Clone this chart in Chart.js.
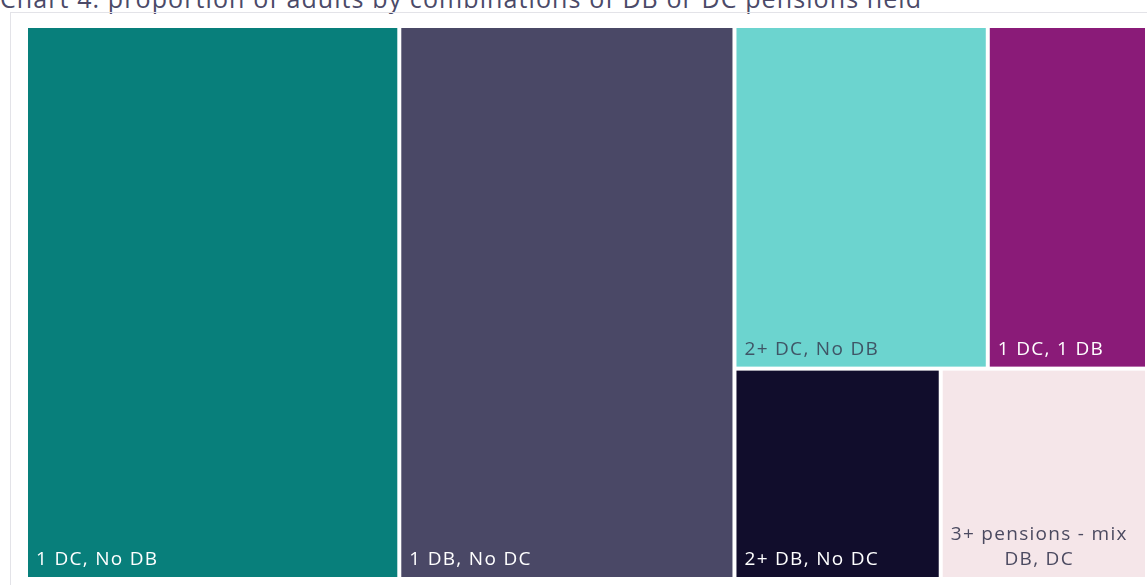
<!DOCTYPE html>
<html>
<head>
<meta charset="utf-8">
<title>Pension combinations treemap</title>
<script src="https://cdn.jsdelivr.net/npm/chart.js@4.4.1/dist/chart.umd.min.js"></script>
<style>
  html, body { margin: 0; padding: 0; background: #fff; overflow: hidden; }
  body { width: 1147px; height: 585px; position: relative; font-family: "Open Sans", sans-serif; }
  .chart-title { position: absolute; left: 0; top: -18px; margin: 0; font-size: 25px; line-height: 32px; letter-spacing: 1.1px; font-weight: 400; color: #4b4a68; white-space: nowrap; }
  .chart-frame { position: absolute; left: 10px; top: 12px; width: 1160px; height: 600px; border: 1px solid #e3e3e8; box-sizing: border-box; }
  .chart-box { position: absolute; left: 0; top: 0; width: 1147px; height: 585px; }
</style>
</head>
<body>
<h2 class="chart-title">Chart 4: proportion of adults by combinations of DB or DC pensions held</h2>
<div class="chart-frame"></div>
<div class="chart-box"><canvas id="treemap"></canvas></div>
<script>
// share of adults (%) per combination of pensions held
const categories = ["1 DC, No DB", "1 DB, No DC", "2+ DC, No DB", "1 DC, 1 DB", "2+ DB, No DC", "3+ pensions - mix DB, DC"];
const shares = [33.3, 29.9, 14.0, 8.8, 7.0, 7.0];
const cellColors = ["#087f7b", "#4a4866", "#6cd4cf", "#8a1b78", "#110d2c", "#f5e6e9"];
const labelColors = ["#ffffff", "#ffffff", "#3f5566", "#ffffff", "#ffffff", "#4b4a60"];

const ASPECT = 1.2;   // target cell ratio for the squarify pass
const GAP = 2;        // white gutter on each side of a cell
const PAD_X = 8;
const PAD_BOTTOM = 12;
const LINE_H = 25;
const FONT = "19px 'Open Sans', sans-serif";
const TRACKING = "1.3px";

// squarified layout (d3-style, ratio-weighted); values must be sorted descending
function squarify(values, x0, y0, x1, y1, ratio) {
  const out = [];
  const n = values.length;
  let value = values.reduce((a, b) => a + b, 0);
  let i0 = 0, i1 = 0;
  while (i0 < n) {
    const dx = x1 - x0, dy = y1 - y0;
    let sum = values[i1++], minV = sum, maxV = sum;
    const alpha = Math.max(dy / dx, dx / dy) / (value * ratio);
    let beta = sum * sum * alpha;
    let minRatio = Math.max(maxV / beta, beta / minV);
    for (; i1 < n; ++i1) {
      const v = values[i1];
      sum += v;
      if (v < minV) minV = v;
      if (v > maxV) maxV = v;
      beta = sum * sum * alpha;
      const r = Math.max(maxV / beta, beta / minV);
      if (r > minRatio) { sum -= v; break; }
      minRatio = r;
    }
    const row = values.slice(i0, i1);
    if (dx < dy) {
      const h = dy * sum / value;
      let x = x0;
      row.forEach(v => { const w = dx * v / sum; out.push({ x0: x, y0: y0, x1: x + w, y1: y0 + h }); x += w; });
      y0 += h;
    } else {
      const w = dx * sum / value;
      let y = y0;
      row.forEach(v => { const h = dy * v / sum; out.push({ x0: x0, y0: y, x1: x0 + w, y1: y + h }); y += h; });
      x0 += w;
    }
    value -= sum;
    i0 = i1;
  }
  return out;
}

function wrapLabel(ctx, text, maxW) {
  const words = text.split(" ");
  const lines = [];
  let line = "";
  words.forEach(word => {
    const test = line ? line + " " + word : word;
    if (line && ctx.measureText(test).width > maxW) { lines.push(line); line = word; }
    else line = test;
  });
  if (line) lines.push(line);
  return lines;
}

const treemapCells = {
  id: "treemapCells",
  afterDatasetsDraw(chart) {
    const { ctx, chartArea, scales: { x, y } } = chart;
    const w = chartArea.right - chartArea.left;
    const h = chartArea.bottom - chartArea.top;
    const order = shares.map((v, i) => i).sort((a, b) => shares[b] - shares[a]);
    const rects = squarify(order.map(i => shares[i]), 0, 0, w, h, ASPECT);

    ctx.save();
    ctx.font = FONT;
    ctx.letterSpacing = TRACKING;
    ctx.textBaseline = "alphabetic";
    rects.forEach((r, k) => {
      const i = order[k];
      const left = x.getPixelForValue(r.x0 / w * 100) + GAP;
      const right = x.getPixelForValue(r.x1 / w * 100) - GAP;
      const top = y.getPixelForValue(r.y0 / h * 100) + GAP;
      const bottom = y.getPixelForValue(r.y1 / h * 100) - GAP;
      ctx.fillStyle = cellColors[i];
      ctx.fillRect(left, top, right - left, bottom - top);

      // label sits in the bottom-left corner; wrapped lines are centred on each other
      const lines = wrapLabel(ctx, categories[i], right - left - PAD_X);
      const blockW = Math.max(...lines.map(l => ctx.measureText(l).width));
      const cx = left + PAD_X + blockW / 2;
      ctx.fillStyle = labelColors[i];
      ctx.textAlign = "center";
      lines.forEach((l, j) => {
        ctx.fillText(l, cx, bottom - PAD_BOTTOM - (lines.length - 1 - j) * LINE_H);
      });
    });
    ctx.restore();
  }
};

new Chart(document.getElementById("treemap"), {
  type: "scatter",
  data: { datasets: [{ data: [], pointRadius: 0 }] },
  options: {
    responsive: true,
    maintainAspectRatio: false,
    animation: false,
    layout: { padding: { left: 26, top: 26, right: 0, bottom: 6 } },
    plugins: { legend: { display: false }, tooltip: { enabled: false } },
    scales: {
      x: { type: "linear", min: 0, max: 100, display: false },
      y: { type: "linear", min: 0, max: 100, reverse: true, display: false }
    }
  },
  plugins: [treemapCells]
});
</script>
</body>
</html>
